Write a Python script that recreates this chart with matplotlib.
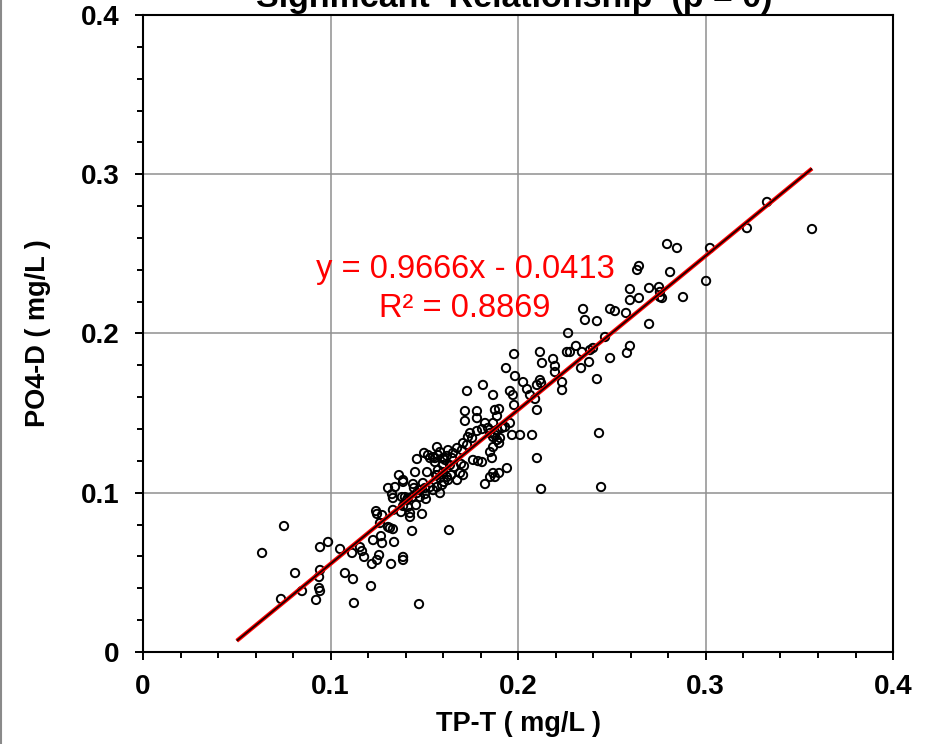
import matplotlib
matplotlib.use('Agg')
import matplotlib.pyplot as plt
from matplotlib.ticker import MultipleLocator, FuncFormatter
from matplotlib.lines import Line2D

plt.rcParams['font.family'] = ['Liberation Sans', 'DejaVu Sans']

# ---- data ----
tp_t = [
    0.0635, 0.0752, 0.0736, 0.0811, 0.0848, 0.0923, 0.0939, 0.0944, 0.0939, 0.0944,
    0.0944, 0.0987, 0.1051, 0.1077, 0.1115, 0.1120, 0.1125, 0.1157, 0.1168, 0.1179,
    0.1216, 0.1221, 0.1227, 0.1248, 0.1259, 0.1269, 0.1275, 0.1323, 0.1339, 0.1387,
    0.1387, 0.1435, 0.1472, 0.1632, 0.1243, 0.1248, 0.1275, 0.1307, 0.1317, 0.1333,
    0.1264, 0.1333, 0.1376, 0.1424, 0.1424, 0.1456, 0.1488, 0.1413, 0.1387,
    0.1307, 0.1344, 0.1328, 0.1333, 0.1387, 0.1381, 0.1440, 0.1445, 0.1397, 0.1408,
    0.1477, 0.1504, 0.1509, 0.1531, 0.1568, 0.1584, 0.1605, 0.1477, 0.1547,
    0.1365, 0.1387, 0.1451, 0.1515, 0.1563, 0.1584, 0.1595, 0.1621, 0.1627, 0.1643,
    0.1691, 0.1707, 0.1493, 0.1504, 0.1413, 0.1461, 0.1435,
    0.1461, 0.1499, 0.1520, 0.1531, 0.1557, 0.1568, 0.1584, 0.1573, 0.1547, 0.1600,
    0.1557, 0.1611, 0.1600, 0.1637, 0.1648, 0.1659, 0.1675, 0.1621, 0.1696, 0.1712,
    0.1707, 0.1728, 0.1701, 0.1653, 0.1627, 0.1760, 0.1787, 0.1808, 0.1851, 0.1861,
    0.1867, 0.1867, 0.1851, 0.1877, 0.1824, 0.1675, 0.1600, 0.1573, 0.1568, 0.1899,
    0.1941,
    0.1813, 0.1728, 0.1867, 0.1957, 0.1973, 0.1979, 0.2027, 0.2048, 0.2064, 0.2101,
    0.2101, 0.1717, 0.1781, 0.1717, 0.1781, 0.1877, 0.1899, 0.1888, 0.1824, 0.1840,
    0.1808, 0.1781, 0.1744, 0.1733, 0.1755, 0.1851, 0.1877, 0.1888, 0.1899, 0.1904,
    0.1931, 0.1957, 0.1968, 0.1867, 0.1888, 0.1867, 0.1979, 0.1936, 0.1984, 0.2011,
    0.2075, 0.2101, 0.1915,
    0.2117, 0.2128, 0.2187, 0.2197, 0.2197, 0.2235, 0.2235, 0.2117, 0.2123, 0.2091,
    0.2421, 0.2432, 0.2123, 0.2443,
    0.2347, 0.2357, 0.2421, 0.2491, 0.2517, 0.2576, 0.2699, 0.2597, 0.2267,
    0.2464, 0.2400, 0.2384, 0.2309, 0.2261, 0.2277, 0.2341, 0.2336, 0.2379, 0.2491,
    0.2581, 0.2597, 0.3328, 0.3221, 0.3568, 0.3024, 0.3003, 0.2795, 0.2848, 0.2645,
    0.2635, 0.2811, 0.2597, 0.2699, 0.2752, 0.2757, 0.2757, 0.2768, 0.2880, 0.2645,
]
po4_d = [
    0.0622, 0.0791, 0.0333, 0.0496, 0.0383, 0.0327, 0.0402, 0.0383, 0.0471, 0.0515,
    0.0659, 0.0691, 0.0647, 0.0496, 0.0622, 0.0458, 0.0308, 0.0659, 0.0634, 0.0597,
    0.0414, 0.0553, 0.0703, 0.0578, 0.0609, 0.0728, 0.0684, 0.0553, 0.0691, 0.0597,
    0.0578, 0.0760, 0.0301, 0.0766, 0.0885, 0.0867, 0.0860, 0.0785, 0.0779, 0.0772,
    0.0810, 0.0892, 0.0879, 0.0873, 0.0848, 0.0923, 0.0867, 0.0911, 0.0917,
    0.1030, 0.1036, 0.0992, 0.0967, 0.1068, 0.0973, 0.1055, 0.1030, 0.0973, 0.0954,
    0.1017, 0.0992, 0.0961, 0.1036, 0.1036, 0.0998, 0.1068, 0.0973, 0.1017,
    0.1111, 0.1080, 0.1130, 0.1130, 0.1111, 0.1093, 0.1049, 0.1099, 0.1080, 0.1111,
    0.1124, 0.1111, 0.1061, 0.1030, 0.0967, 0.0998, 0.0973,
    0.1212, 0.1250, 0.1237, 0.1218, 0.1218, 0.1287, 0.1256, 0.1237, 0.1224, 0.1218,
    0.1193, 0.1206, 0.1174, 0.1174, 0.1218, 0.1162, 0.1281, 0.1231, 0.1181, 0.1168,
    0.1312, 0.1300, 0.1268, 0.1250, 0.1268, 0.1206, 0.1199, 0.1193, 0.1256, 0.1218,
    0.1287, 0.1124, 0.1099, 0.1099, 0.1055, 0.1080, 0.1130, 0.1143, 0.1111, 0.1124,
    0.1155,
    0.1677, 0.1639, 0.1614, 0.1639, 0.1614, 0.1551, 0.1695, 0.1651, 0.1614, 0.1677,
    0.1520, 0.1513, 0.1513, 0.1451, 0.1469, 0.1520, 0.1526, 0.1482, 0.1438, 0.1407,
    0.1400, 0.1388, 0.1375, 0.1350, 0.1344, 0.1375, 0.1363, 0.1331, 0.1312, 0.1344,
    0.1413, 0.1438, 0.1363, 0.1438, 0.1394, 0.1350, 0.1871, 0.1783, 0.1733, 0.1363,
    0.1363, 0.1218, 0.1407,
    0.1884, 0.1815, 0.1840, 0.1796, 0.1758, 0.1695, 0.1645, 0.1708, 0.1689, 0.1589,
    0.1714, 0.1375, 0.1024, 0.1036,
    0.2154, 0.2085, 0.2078, 0.2154, 0.2141, 0.2129, 0.2060, 0.2210, 0.2003,
    0.1978, 0.1909, 0.1896, 0.1922, 0.1884, 0.1884, 0.1884, 0.1783, 0.1821, 0.1846,
    0.1878, 0.1922, 0.2826, 0.2662, 0.2656, 0.2537, 0.2330, 0.2562, 0.2537, 0.2424,
    0.2399, 0.2386, 0.2279, 0.2286, 0.2292, 0.2261, 0.2229, 0.2223, 0.2229, 0.2223,
]

slope = 0.9666
intercept = -0.0413
r_squared = 0.8869
trend_start = 0.05

title = "Significant  Relationship  (p = 0)"
x_label = "TP-T ( mg/L )"
y_label = "PO4-D ( mg/L )"

# ---- figure ----
W, H = 935, 744
fig = plt.figure(figsize=(W / 100, H / 100), dpi=100)
fig.patch.set_facecolor('white')
ax = fig.add_axes([143 / W, (H - 652) / H, 750 / W, 637 / H])

ax.scatter(tp_t, po4_d, s=36, facecolors='none', edgecolors='black',
           linewidths=1.4, zorder=3)

xs = [trend_start, max(tp_t)]
ys = [slope * v + intercept for v in xs]
ax.plot(xs, ys, color='#ff0000', lw=3.0, solid_capstyle='butt', zorder=4)
ax.plot(xs, ys, color='#200000', lw=1.3, solid_capstyle='butt', zorder=5)

ax.set_xlim(0, 0.4)
ax.set_ylim(0, 0.4)
ax.xaxis.set_major_locator(MultipleLocator(0.1))
ax.yaxis.set_major_locator(MultipleLocator(0.1))
ax.xaxis.set_minor_locator(MultipleLocator(0.02))
ax.yaxis.set_minor_locator(MultipleLocator(0.02))
fmt = FuncFormatter(lambda v, p: '0' if abs(v) < 1e-9 else f'{v:.1f}')
ax.xaxis.set_major_formatter(fmt)
ax.yaxis.set_major_formatter(fmt)

ax.grid(True, which='major', color='#8f8f8f', lw=1.1, zorder=0)
ax.set_axisbelow(True)
for sp in ax.spines.values():
    sp.set_linewidth(1.5)
    sp.set_color('black')

ax.tick_params(which='major', direction='out', length=6, width=1.4,
               labelsize=20, pad=11)
ax.tick_params(axis='x', which='major', pad=10)
ax.tick_params(which='minor', direction='out', length=4.5, width=1.4)
for lab in ax.get_xticklabels() + ax.get_yticklabels():
    lab.set_fontweight('bold')

ax.set_xlabel(x_label, fontsize=19.5, fontweight='bold')
ax.set_ylabel(y_label, fontsize=19.5, fontweight='bold')
ax.xaxis.set_label_coords(0.5, (652 - 724) / 637)
ax.xaxis.label.set_va('center')
ax.yaxis.set_label_coords((38 - 143) / 750, 0.5)
ax.yaxis.label.set_va('center')

ax.text(0.1717, 0.2349, f"y = {slope:.4f}x - {abs(intercept):.4f}", color='#ff0000',
        fontsize=23.5, ha='center', va='baseline', zorder=6)
ax.text(0.1717, 0.2104, f"R² = {r_squared:.4f}", color='#ff0000',
        fontsize=23.5, ha='center', va='baseline', zorder=6)

fig.text(514 / W, (H - 7) / H, title, fontsize=24.5, fontweight='bold',
         ha='center', va='baseline')

fig.add_artist(Line2D([0.6 / W, 0.6 / W], [0, 1], transform=fig.transFigure,
                      color='#8a8a8a', lw=1.5))

fig.savefig('out.png', dpi=100, facecolor='white')
